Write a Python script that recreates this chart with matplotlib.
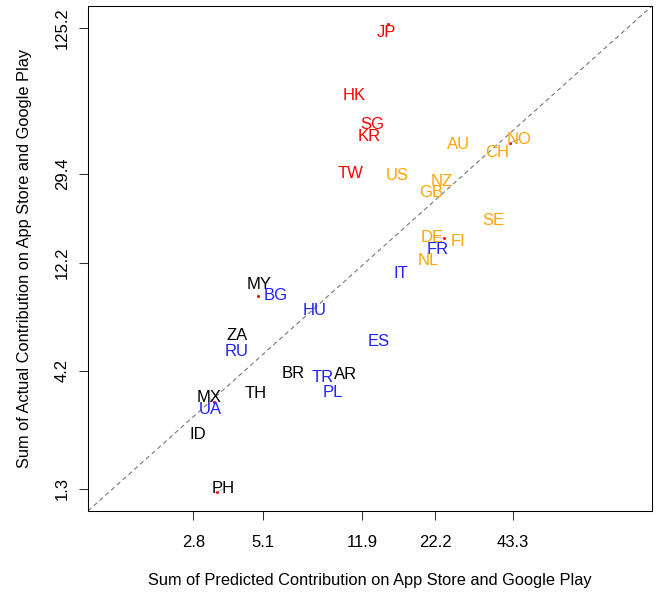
import matplotlib
matplotlib.use("Agg")
import matplotlib.pyplot as plt

plt.rcParams["font.family"] = ["Liberation Sans", "DejaVu Sans"]

countries = ["JP", "HK", "SG", "KR", "TW", "AU", "NO", "CH", "US", "NZ", "GB", "SE",
             "DE", "FI", "FR", "NL", "IT", "MY", "BG", "HU", "ES", "ZA", "RU", "BR",
             "AR", "TR", "PL", "TH", "MX", "UA", "ID", "PH"]
predicted = [14.84, 11.06, 12.92, 12.59, 10.78, 27.2, 42.2, 37.7, 16.04, 23.5, 21.5, 36.4,
             23.9, 26.9, 22.7, 21.0, 16.6, 4.86, 5.68, 7.90, 13.73, 4.06, 4.06, 6.58,
             10.32, 8.45, 9.22, 4.78, 3.33, 3.25, 2.92, 3.44]
actual = [130.2, 64.1, 48.1, 42.7, 29.6, 39.5, 40.1, 36.4, 29.1, 27.4, 24.5, 18.6,
          15.6, 15.1, 14.0, 12.5, 11.0, 8.80, 8.84, 7.61, 5.60, 5.95, 5.07, 4.08,
          4.04, 3.92, 3.38, 3.35, 3.08, 2.86, 2.23, 1.26]
groups = ["asia", "asia", "asia", "asia", "asia", "west", "west", "west", "west", "west",
          "west", "west", "west", "west", "east", "west", "east", "other", "east", "east",
          "east", "other", "east", "other", "other", "east", "east", "other", "other",
          "east", "other", "other"]

x_ticks = [2.8, 5.1, 11.9, 22.2, 43.3]
y_ticks = [1.3, 4.2, 12.2, 29.4, 125.2]

colors = {"asia": "red", "west": "orange", "east": "#1f1fff", "other": "black"}
# labels that were pushed away from their point (offset in points)
moved = {"JP": (-1, -6), "NO": (6.5, 2.5), "DE": (-8, 0.5), "MY": (1, 8.5),
         "MX": (-3.5, 3.5), "PH": (4.5, 2.5)}

fig = plt.figure(figsize=(6.56, 5.93), dpi=100)
ax = fig.add_axes([0.1341, 0.1383, 0.8598, 0.8516])
ax.set_xscale("log")
ax.set_yscale("log")
ax.set_xlim(1.137, 142.1)
ax.set_ylim(1.045, 155.6)

# reference line corner to corner of the plot region
ax.plot([0, 1], [0, 1], transform=ax.transAxes, color="#777777", lw=0.8,
        ls=(0, (4, 3)), zorder=1)

for c, px, ay, g in zip(countries, predicted, actual, groups):
    if c in moved:
        ax.scatter([px], [ay], s=5, color="red", zorder=2, linewidths=0)
        ax.annotate(c, (px, ay), xytext=moved[c], textcoords="offset points",
                    ha="center", va="center", fontsize=12, color=colors[g],
                    arrowprops=dict(arrowstyle="-", color="#999999", lw=0.5,
                                    shrinkA=0, shrinkB=0), zorder=3)
    else:
        ax.text(px, ay, c, ha="center", va="center", fontsize=12,
                color=colors[g], zorder=3)

ax.set_xticks(x_ticks)
ax.set_xticklabels([str(v) for v in x_ticks])
ax.set_yticks(y_ticks)
ax.set_yticklabels([str(v) for v in y_ticks], rotation=90, va="center")
ax.minorticks_off()
ax.tick_params(axis="both", length=6.5, width=0.75, color="#333333", labelsize=12)
ax.tick_params(axis="x", pad=11)
ax.tick_params(axis="y", pad=6.5)
for s in ax.spines.values():
    s.set_linewidth(0.75)

ax.set_xlabel("Sum of Predicted Contribution on App Store and Google Play", fontsize=11.8, labelpad=16)
ax.set_ylabel("Sum of Actual Contribution on App Store and Google Play", fontsize=11.8, labelpad=16.5)

fig.savefig("out.png", dpi=100)
